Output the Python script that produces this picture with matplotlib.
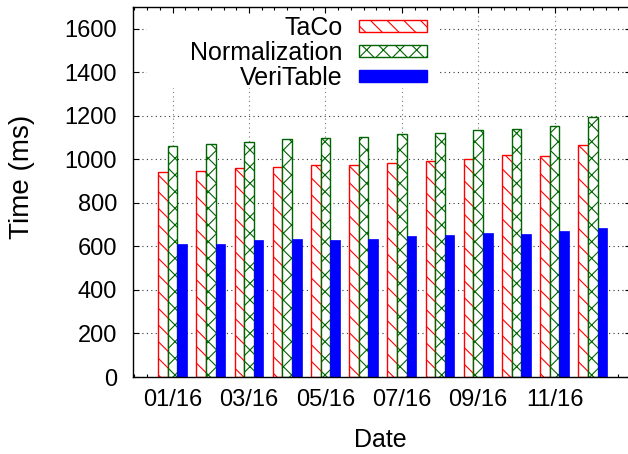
import matplotlib
matplotlib.use("Agg")
import matplotlib.pyplot as plt
import numpy as np
from matplotlib.patches import Rectangle
from matplotlib.ticker import MultipleLocator

plt.rcParams['font.family'] = ['Liberation Sans', 'DejaVu Sans']
plt.rcParams['hatch.linewidth'] = 0.8

months = ["01/16", "02/16", "03/16", "04/16", "05/16", "06/16",
          "07/16", "08/16", "09/16", "10/16", "11/16", "12/16"]
taco = [941, 948, 961, 966, 975, 975, 985, 993, 1002, 1019, 1016, 1067]
normalization = [1063, 1071, 1082, 1094, 1100, 1103, 1117, 1122, 1136, 1140, 1154, 1195]
veritable = [610, 611, 630, 634, 631, 634, 650, 653, 660, 657, 670, 686]

W, H = 628, 454
RED = "#ff0000"
GREEN = "#006400"
BLUE = "#0000ff"
FS = 17


def fx(x):
    return x / W


def fy(y):
    return 1 - y / H


fig = plt.figure(figsize=(W / 100, H / 100), dpi=100)
# axes box runs off the right edge of the canvas on purpose
ax = fig.add_axes([fx(132.5), fy(377), 13.05 * 38.2 / W, 370 / H])

x = np.arange(len(months))
bw = 0.25
ax.bar(x - bw, taco, bw, color="white", edgecolor=RED, hatch="\\\\", linewidth=1.0)
ax.bar(x, normalization, bw, color="white", edgecolor=GREEN, hatch="xx", linewidth=1.0)
ax.bar(x + bw, veritable, bw, color=BLUE, edgecolor=BLUE, linewidth=0.5)

ax.set_xlim(-1.05, 12)
ax.set_ylim(0, 1700)
ax.set_axisbelow(True)

ax.set_xticks(x[::2])
ax.set_xticklabels(months[::2], fontsize=FS)
ax.xaxis.set_minor_locator(MultipleLocator(1 / 3))
ax.set_yticks(np.arange(0, 1601, 200))
ax.tick_params(axis='y', labelsize=FS, direction='in', length=4.5, width=0.8, pad=11, right=True)
ax.tick_params(axis='x', which='major', direction='in', length=4.5, width=0.8, pad=9, top=True)
ax.tick_params(axis='x', which='minor', direction='in', length=2.2, width=0.8, top=True)

ax.grid(True, which='major', axis='y', color="#333333", linewidth=0.8, linestyle=(0, (1, 3)))
ax.grid(True, which='major', axis='x', color="#777777", linewidth=0.8, linestyle=(0, (1, 3)))
for s in ax.spines.values():
    s.set_linewidth(1.0)

fig.text(fx(380), fy(447), "Date", fontsize=18, ha='center', va='baseline')
fig.text(fx(22), fy(177), "Time (ms)", fontsize=20, rotation=90, ha='center', va='center')

# key box in the upper left of the plot area
ax.add_patch(Rectangle((fx(147), fy(88)), fx(440 - 147), (88 - 14) / H,
                       transform=fig.transFigure, facecolor="white", edgecolor="none", zorder=3))
key = [("TaCo", dict(facecolor="white", edgecolor=RED, hatch="\\\\")),
       ("Normalization", dict(facecolor="white", edgecolor=GREEN, hatch="xx")),
       ("VeriTable", dict(facecolor=BLUE, edgecolor=BLUE))]
for i, (name, style) in enumerate(key):
    yc = 26 + 25 * i
    fig.text(fx(343), fy(yc + 9), name, fontsize=18, ha='right', va='baseline', zorder=5)
    ax.add_patch(Rectangle((fx(359), fy(yc + 6)), fx(68), 12 / H, transform=fig.transFigure,
                           linewidth=1.0, zorder=4, **style))

fig.savefig("out.png", dpi=100)
